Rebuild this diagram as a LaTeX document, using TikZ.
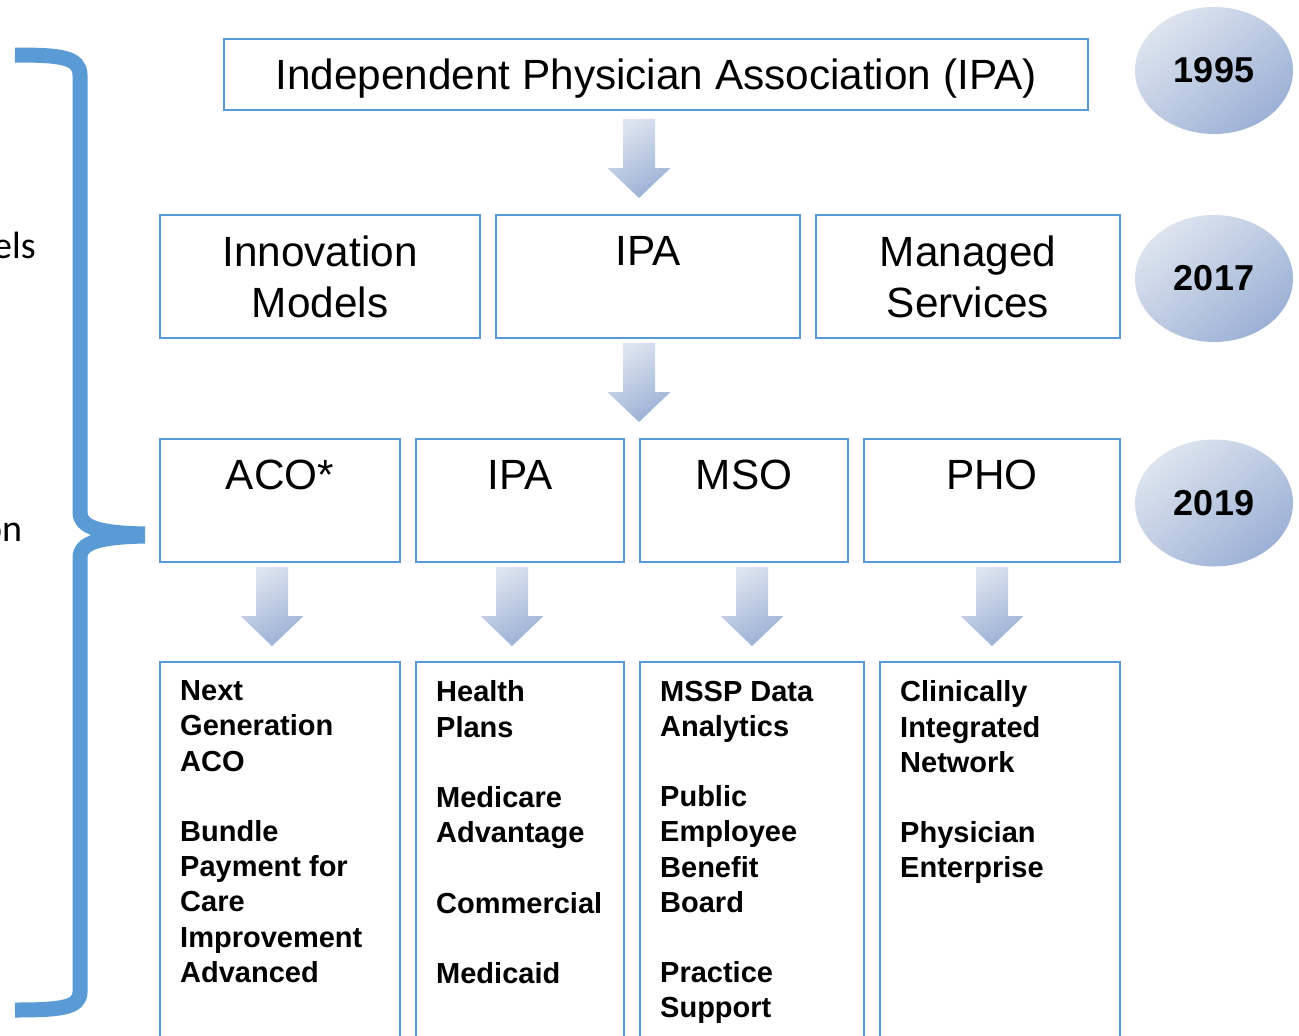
\documentclass[tikz,border=0pt]{standalone}
\usepackage{fontspec}
\setmainfont{Liberation Sans}
\newfontfamily\calib{Carlito}
\usetikzlibrary{shapes.geometric}
\definecolor{bl}{HTML}{5B9BD5}
\definecolor{shlight}{HTML}{DDE4EF}
\definecolor{shdark}{HTML}{9CB1D6}
\begin{document}
\begin{tikzpicture}[x=1pt,y=-1pt,
  box/.style={draw=bl, line width=2pt, inner sep=0pt, align=center,
     font=\fontsize{42.3}{51}\selectfont},
  listtxt/.style={anchor=north west, inner sep=0pt, align=left,
     font=\bfseries\fontsize{29}{35.2}\selectfont},
  year/.style={ellipse, inner sep=0pt, minimum width=158pt, minimum height=127pt,
     top color=shlight, bottom color=shdark, shading angle=40,
     font=\bfseries\fontsize{36}{40}\selectfont},
  side/.style={inner sep=0pt, anchor=west, font=\calib\fontsize{38}{44}\selectfont},
  arrowshade/.style={top color=shlight, bottom color=shdark, shading angle=30},
  downarrow/.pic={\shade[arrowshade] (-16,0) -- (16,0) -- (16,49) -- (31.5,49)
     -- (0,79) -- (-31.5,49) -- (-16,49) -- cycle;}
]
\clip (0,0) rectangle (1299,1036);
\fill[white] (0,0) rectangle (1299,1036);

% left brace and cut-off texts
\node[side] (t1) at (-7,245.5) {els};
\node[side] (t2) at (-18,532) {on};
\draw[bl, line width=15pt] (15,55) .. controls (60,55) and (80,57) .. (80,75)
   -- (80,512) .. controls (80,528) and (100,533) .. (145,534);
\draw[bl, line width=15pt] (145,536) .. controls (100,537) and (80,542) .. (80,558)
   -- (80,992) .. controls (80,1008) and (60,1010) .. (15,1010);

% row 1
\node[box, minimum width=864pt, minimum height=71pt, text height=30.3pt, text depth=0pt] (ipa95) at (656,74.5)
  {Independent Physician Association (IPA)};
\node[year] (y95) at (1214,70.5) {1995};
\pic at (639,119) {downarrow};

% row 2
\node[box, minimum width=320pt, minimum height=123pt] (inn) at (320,276.5) {Innovation\\Models};
\node[box, minimum width=304pt, minimum height=123pt] (ipa17) at (648,276.5) {IPA\\\phantom{M}};
\node[box, minimum width=304pt, minimum height=123pt] (mgd) at (968,276.5) {Managed\\Services};
\node[year] (y17) at (1214,278.5) {2017};
\pic at (639,343) {downarrow};

% row 3
\node[box, minimum width=240pt, minimum height=123pt] (aco) at (280,500.5) {ACO*\\\phantom{M}};
\node[box, minimum width=208pt, minimum height=123pt] (ipa19) at (520,500.5) {IPA\\\phantom{M}};
\node[box, minimum width=208pt, minimum height=123pt] (mso) at (744,500.5) {MSO\\\phantom{M}};
\node[box, minimum width=256pt, minimum height=123pt] (pho) at (992,500.5) {PHO\\\phantom{M}};
\node[year] (y19) at (1214,503) {2019};
\foreach \cx in {272,512,752,992} \pic at (\cx,567) {downarrow};

% row 4
\node[box, minimum width=240pt, minimum height=398pt] (b1) at (280,861) {};
\node[box, minimum width=208pt, minimum height=398pt] (b2) at (520,861) {};
\node[box, minimum width=224pt, minimum height=398pt] (b3) at (752,861) {};
\node[box, minimum width=240pt, minimum height=398pt] (b4) at (1000,861) {};
\node[listtxt] (l1) at (180,680.6) {Next\\Generation\\ACO\\\mbox{}\\Bundle\\Payment for\\Care\\Improvement\\Advanced};
\node[listtxt] (l2) at (436,680.6) {Health\\Plans\\\mbox{}\\Medicare\\Advantage\\\mbox{}\\Commercial\\\mbox{}\\Medicaid};
\node[listtxt] (l3) at (660,680.6) {MSSP Data\\Analytics\\\mbox{}\\Public\\Employee\\Benefit\\Board\\\mbox{}\\Practice\\Support};
\node[listtxt] (l4) at (900,680.6) {Clinically\\Integrated\\Network\\\mbox{}\\Physician\\Enterprise};
\end{tikzpicture}
\end{document}
